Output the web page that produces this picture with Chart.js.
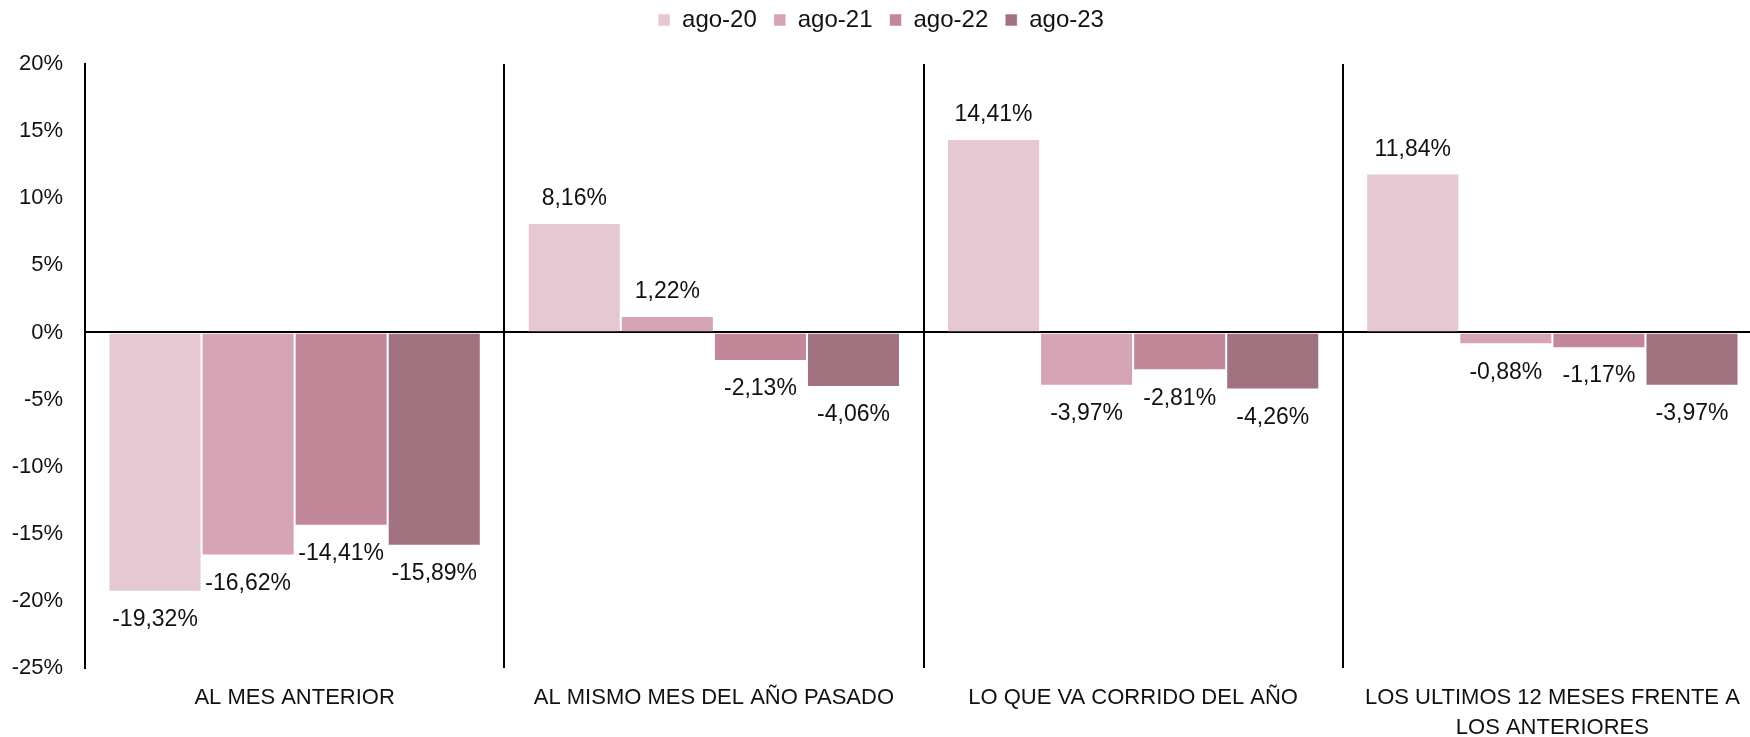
<!DOCTYPE html>
<html>
<head>
<meta charset="utf-8">
<script src="https://cdn.jsdelivr.net/npm/chart.js@4/dist/chart.umd.min.js"></script>
<style>
  html, body { margin: 0; padding: 0; background: #fff; overflow: hidden; }
  #wrap { width: 1762px; height: 737px; }
</style>
</head>
<body>
<div id="wrap"><canvas id="chart" width="1762" height="737"></canvas></div>
<script>
const categories = [
  "AL MES ANTERIOR",
  "AL MISMO MES DEL AÑO PASADO",
  "LO QUE VA CORRIDO DEL AÑO",
  ["LOS ULTIMOS 12 MESES FRENTE A", "LOS ANTERIORES"]
];
const seriesNames = ["ago-20", "ago-21", "ago-22", "ago-23"];
const ago20 = [-19.32, 8.16, 14.41, 11.84];
const ago21 = [-16.62, 1.22, -3.97, -0.88];
const ago22 = [-14.41, -2.13, -2.81, -1.17];
const ago23 = [-15.89, -4.06, -4.26, -3.97];
const seriesColors = ["#E5C8D2", "#D6A5B5", "#C28899", "#A1727F"];
const yTicks = [-25, -20, -15, -10, -5, 0, 5, 10, 15, 20];

const FONT = "'Liberation Sans', Arial, sans-serif";
const decimal = new Intl.NumberFormat("es-CO", { minimumFractionDigits: 2, maximumFractionDigits: 2 });

// etiquetas de valor: encima de las barras positivas, debajo de las negativas
const valueLabels = {
  id: "valueLabels",
  afterDatasetsDraw(chart) {
    const ctx = chart.ctx;
    ctx.save();
    ctx.font = `23px ${FONT}`;
    ctx.fillStyle = "#111";
    ctx.textAlign = "center";
    ctx.textBaseline = "middle";
    chart.data.datasets.forEach((dataset, i) => {
      chart.getDatasetMeta(i).data.forEach((bar, j) => {
        const value = dataset.data[j];
        const y = value >= 0 ? bar.y - 24 : bar.y + 28;
        ctx.fillText(`${decimal.format(value)}%`, bar.x, y);
      });
    });
    ctx.restore();
  }
};

// alto fijo de la leyenda para que el área del gráfico empiece en y=64
const legendHeight = {
  id: "legendHeight",
  beforeInit(chart) {
    const fit = chart.legend.fit;
    chart.legend.fit = function () {
      fit.call(this);
      this.height = 73;
    };
  }
};

const data = [ago20, ago21, ago22, ago23];

new Chart(document.getElementById("chart"), {
  type: "bar",
  data: {
    labels: categories,
    datasets: seriesNames.map((name, i) => ({
      label: name,
      data: data[i],
      backgroundColor: seriesColors[i],
      borderColor: "rgba(255,255,255,0.5)",
      borderWidth: 1,
      categoryPercentage: 0.888,
      barPercentage: 1
    }))
  },
  options: {
    responsive: false,
    animation: false,
    layout: { padding: { top: -9, left: 0, right: 0, bottom: 0 } },
    plugins: {
      legend: {
        position: "top",
        labels: {
          boxWidth: 12,
          boxHeight: 12,
          padding: 17,
          color: "#111",
          font: { family: FONT, size: 24 }
        }
      },
      tooltip: { enabled: false }
    },
    scales: {
      x: {
        grid: {
          offset: true,
          color: "#000",
          lineWidth: 2,
          drawTicks: false
        },
        border: { display: false },
        ticks: {
          color: "#111",
          padding: 15,
          maxRotation: 0,
          autoSkip: false,
          font: { family: FONT, size: 22, lineHeight: 1.35 }
        },
        afterFit: scale => { scale.height = 69; }
      },
      y: {
        min: -25,
        max: 20,
        afterBuildTicks: scale => { scale.ticks = yTicks.map(value => ({ value })); },
        grid: {
          drawTicks: false,
          color: ctx => (ctx.tick && ctx.tick.value === 0 ? "#000" : "transparent"),
          lineWidth: 2
        },
        border: { display: true, color: "#000", width: 2 },
        ticks: {
          color: "#111",
          padding: 22,
          font: { family: FONT, size: 22 },
          callback: value => `${value}%`
        },
        afterFit: scale => { scale.width = 85; }
      }
    }
  },
  plugins: [legendHeight, valueLabels]
});
</script>
</body>
</html>
